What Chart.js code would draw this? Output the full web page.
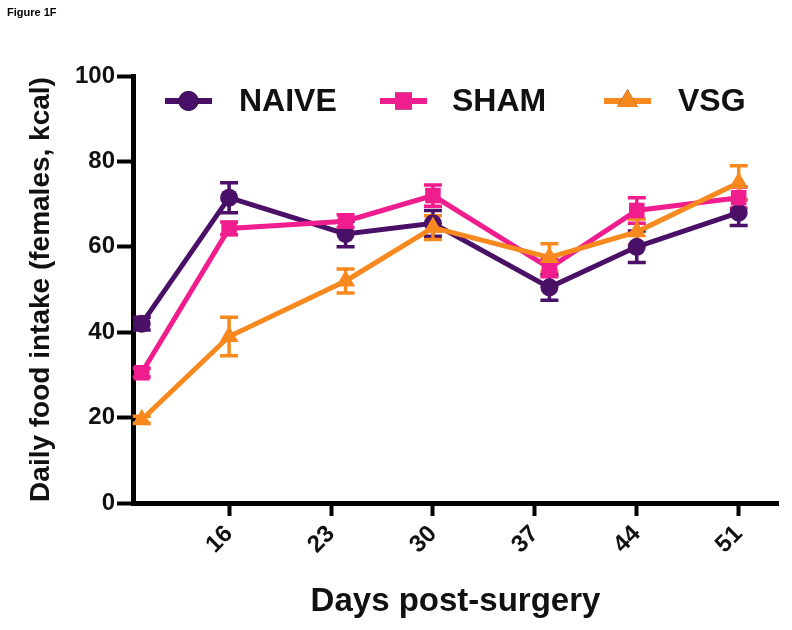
<!DOCTYPE html>
<html>
<head>
<meta charset="utf-8">
<script src="https://cdn.jsdelivr.net/npm/chart.js@4.4.1/dist/chart.umd.min.js"></script>
<style>
  html, body { margin: 0; padding: 0; background: #fff; }
  #wrap { position: relative; width: 792px; height: 630px; }
  #fig { position: absolute; left: 7px; top: 6px; font: bold 11px "Liberation Sans", Arial, sans-serif; color: #000; }
</style>
</head>
<body>
<div id="wrap">
  <div id="fig">Figure 1F</div>
  <canvas id="foodChart" width="792" height="630"></canvas>
</div>
<script>
// days of measurement
const days = [10, 16, 24, 30, 38, 44, 51];
const tickDays = [16, 23, 30, 37, 44, 51];
const yTicks = [0, 20, 40, 60, 80, 100];

const groupNames = ["NAIVE", "SHAM", "VSG"];
const groupColors = ["#4a0f66", "#ef1d8d", "#f7891f"];
const groupPoints = ["circle", "rect", "triangle"];

const naive = [42, 71.5, 63, 65.5, 50.5, 60, 68];
const naiveErr = [1.5, 3.5, 3, 3, 3, 3.7, 3];
const sham = [30.5, 64.3, 66, 72, 55, 68.5, 71.5];
const shamErr = [1, 1.5, 1.5, 2.5, 2, 3, 2.5];
const vsg = [19.5, 39, 52, 64.5, 57.5, 63.5, 75];
const vsgErr = [0.8, 4.5, 2.8, 2.8, 3.2, 3, 4];

const FONT = '"Liberation Sans", Arial, sans-serif';

function makeSet(i, values, errs, radius) {
  return {
    label: groupNames[i],
    data: days.map((d, k) => ({ x: d, y: values[k] })),
    errors: errs,
    borderColor: groupColors[i],
    backgroundColor: groupColors[i],
    pointBackgroundColor: groupColors[i],
    pointBorderColor: groupColors[i],
    pointStyle: groupPoints[i],
    pointRadius: radius,
    pointBorderWidth: 0,
    borderWidth: 5,
    tension: 0,
    order: 3 - i,
  };
}

// error bars (mean +/- SEM)
const errorBars = {
  id: "errorBars",
  beforeDatasetsDraw(chart) {
    const ctx = chart.ctx;
    const ys = chart.scales.y;
    chart.data.datasets.forEach((ds, i) => {
      const meta = chart.getDatasetMeta(i);
      ctx.save();
      ctx.strokeStyle = ds.borderColor;
      ctx.lineWidth = 3.5;
      meta.data.forEach((pt, k) => {
        const v = ds.data[k].y;
        const e = ds.errors[k];
        const top = ys.getPixelForValue(v + e);
        const bot = ys.getPixelForValue(v - e);
        ctx.beginPath();
        ctx.moveTo(pt.x, top);
        ctx.lineTo(pt.x, bot);
        ctx.moveTo(pt.x - 9, top);
        ctx.lineTo(pt.x + 9, top);
        ctx.moveTo(pt.x - 9, bot);
        ctx.lineTo(pt.x + 9, bot);
        ctx.stroke();
      });
      ctx.restore();
    });
  },
};

// legend drawn inside the plot, along the top
const legendRow = {
  id: "legendRow",
  afterDatasetsDraw(chart) {
    const ctx = chart.ctx;
    const lineX = [165, 380, 604];
    const textX = [239, 452, 678];
    const y = 101;
    ctx.save();
    chart.data.datasets.forEach((ds, i) => {
      ctx.strokeStyle = ds.borderColor;
      ctx.lineWidth = 6;
      ctx.beginPath();
      ctx.moveTo(lineX[i], y);
      ctx.lineTo(lineX[i] + 47, y);
      ctx.stroke();
      Chart.helpers.drawPoint(ctx, { pointStyle: ds.pointStyle, radius: ds.pointRadius + 1, borderWidth: 0 }, lineX[i] + 23.5, y);
      ctx.fillStyle = ds.backgroundColor;
      ctx.fill();
      ctx.fillStyle = "#111";
      ctx.font = "bold 32px " + FONT;
      ctx.textBaseline = "middle";
      ctx.textAlign = "left";
      ctx.fillText(ds.label, textX[i], y + 1);
    });
    ctx.restore();
  },
};

const ctx = document.getElementById("foodChart").getContext("2d");
const foodChart = new Chart(ctx, {
  type: "line",
  data: {
    datasets: [
      makeSet(0, naive, naiveErr, 9),
      makeSet(1, sham, shamErr, 11),
      makeSet(2, vsg, vsgErr, 11),
    ],
  },
  options: {
    responsive: false,
    animation: false,
    layout: { padding: { left: 16, top: 76, right: 14, bottom: 0 } },
    plugins: {
      legend: { display: false },
      tooltip: { enabled: false },
    },
    scales: {
      x: {
        type: "linear",
        min: 9.4,
        max: 53.7,
        afterBuildTicks: (scale) => {
          scale.ticks = tickDays.map((v) => ({ value: v }));
        },
        afterFit: (scale) => {
          scale.height = 127;
        },
        border: { display: true, color: "#000", width: 5 },
        grid: { drawOnChartArea: false, drawTicks: true, tickLength: 13, tickWidth: 4, tickColor: "#000" },
        ticks: {
          color: "#111",
          font: { family: FONT, size: 24, weight: "bold" },
          minRotation: 45,
          maxRotation: 45,
          padding: 4,
        },
        title: {
          display: true,
          text: "Days post-surgery",
          color: "#111",
          font: { family: FONT, size: 33, weight: "bold" },
          padding: { top: 0, bottom: 8 },
        },
      },
      y: {
        min: 0,
        max: 100,
        afterBuildTicks: (scale) => {
          scale.ticks = yTicks.map((v) => ({ value: v }));
        },
        afterFit: (scale) => {
          scale.width = 117;
        },
        border: { display: true, color: "#000", width: 5 },
        grid: { drawOnChartArea: false, drawTicks: true, tickLength: 16, tickWidth: 4, tickColor: "#000" },
        ticks: {
          color: "#111",
          font: { family: FONT, size: 24, weight: "bold" },
          padding: 2,
        },
        title: {
          display: true,
          text: "Daily food intake (females, kcal)",
          color: "#111",
          font: { family: FONT, size: 28, weight: "bold" },
          padding: { top: 8, bottom: 0 },
        },
      },
    },
  },
  plugins: [errorBars, legendRow],
});
</script>
</body>
</html>
